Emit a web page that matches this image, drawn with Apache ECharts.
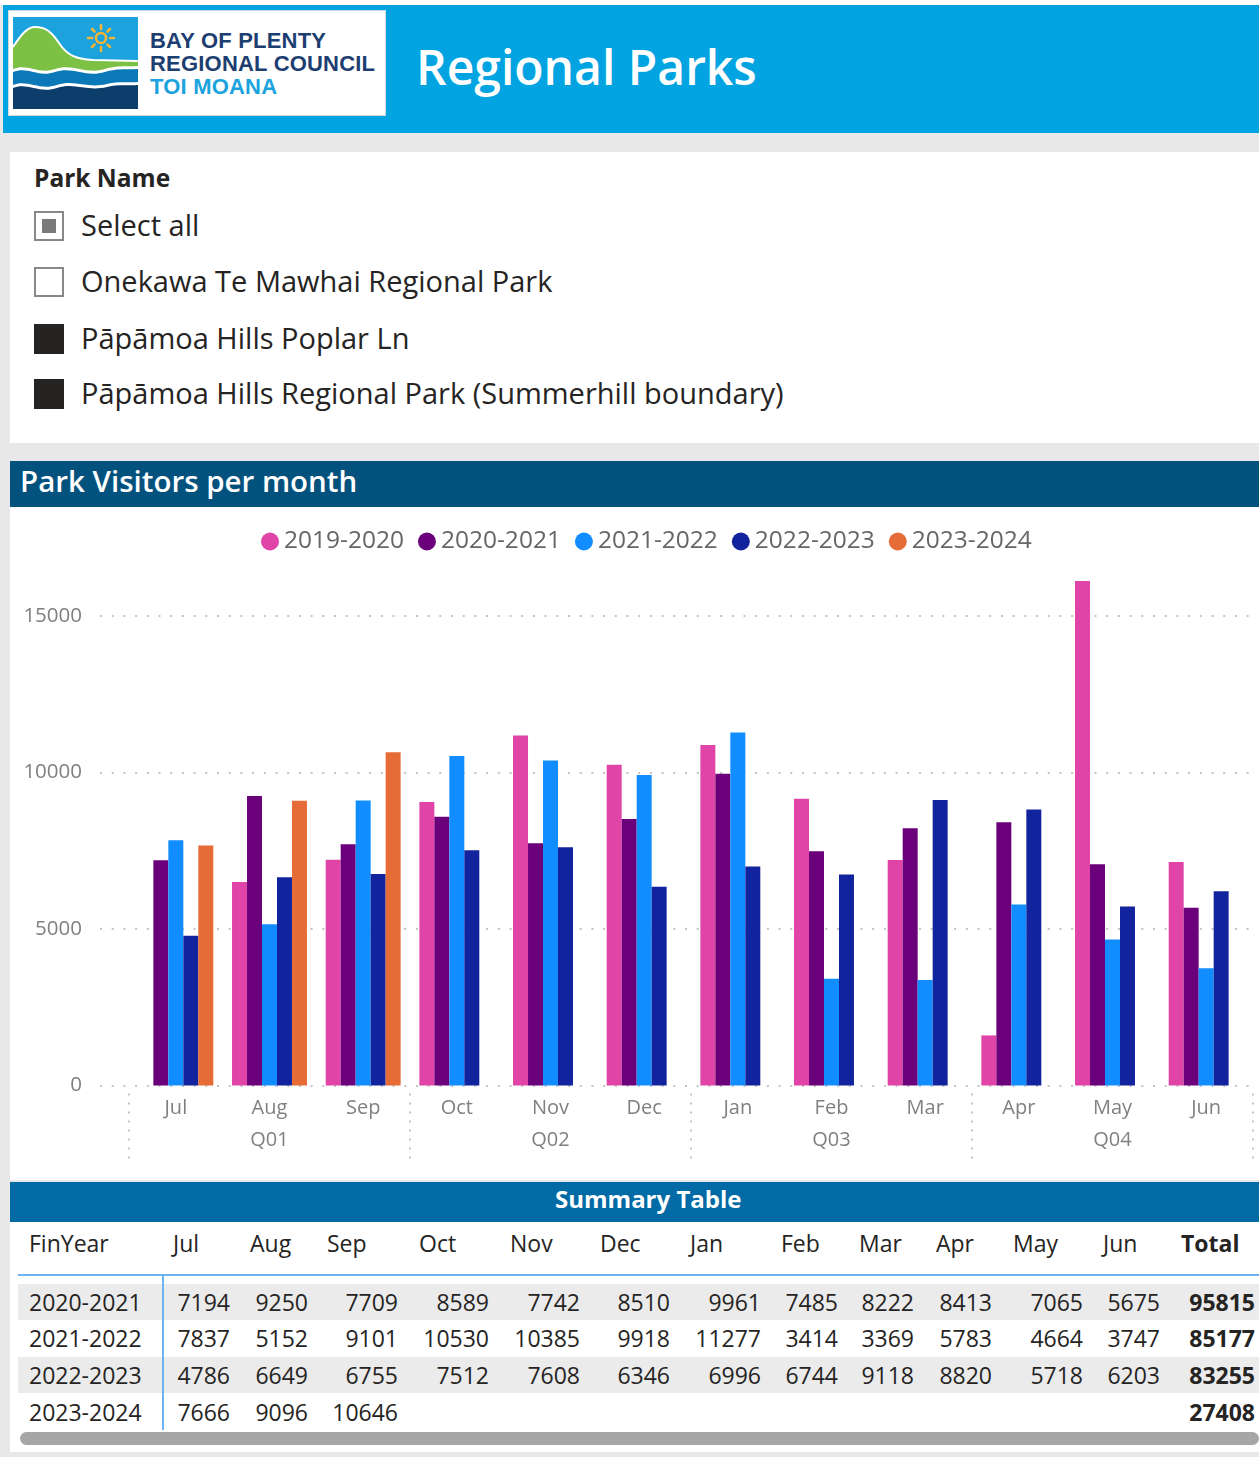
<!DOCTYPE html>
<html>
<head>
<meta charset="utf-8">
<script src="https://cdn.jsdelivr.net/npm/echarts@6/dist/echarts.min.js"></script>
<style>
html,body{margin:0;padding:0;}
body{width:1259px;height:1457px;position:relative;background:#e8e8e8;overflow:hidden;font-family:"Open Sans",sans-serif;color:#252423;}
.abs{position:absolute;}
.cb{position:absolute;left:34px;width:30px;height:30px;box-sizing:border-box;}
.item{position:absolute;left:81px;font-size:29px;line-height:34px;color:#252423;white-space:nowrap;}
</style>
</head>
<body>
<script>
const months = ['Jul','Aug','Sep','Oct','Nov','Dec','Jan','Feb','Mar','Apr','May','Jun'];
const quarters = ['Q01','Q02','Q03','Q04'];
const years = ['2019-2020','2020-2021','2021-2022','2022-2023','2023-2024'];
const v2019_2020 = [null, 6500, 7210, 9060, 11180, 10250, 10880, 9160, 7200, 1600, 16120, 7140];
const v2020_2021 = [7194, 9250, 7709, 8589, 7742, 8510, 9961, 7485, 8222, 8413, 7065, 5675];
const v2021_2022 = [7837, 5152, 9101, 10530, 10385, 9918, 11277, 3414, 3369, 5783, 4664, 3747];
const v2022_2023 = [4786, 6649, 6755, 7512, 7608, 6346, 6996, 6744, 9118, 8820, 5718, 6203];
const v2023_2024 = [7666, 9096, 10646, null, null, null, null, null, null, null, null, null];
const yTicks = [0, 5000, 10000, 15000];
const parkItems = ['Select all', 'Onekawa Te Mawhai Regional Park', 'Pāpāmoa Hills Poplar Ln', 'Pāpāmoa Hills Regional Park (Summerhill boundary)'];
const tableYears = ['2020-2021', '2021-2022', '2022-2023', '2023-2024'];
</script>

<div class="abs" style="left:0;top:0;width:1259px;height:5px;background:#fff"></div>
<!-- header -->
<div class="abs" style="left:3px;top:5px;width:1256px;height:128px;background:#02a3e1"></div>
<div class="abs" style="left:8px;top:10px;width:378px;height:106px;background:#fff;border:1px solid #cfd8dc;box-sizing:border-box"></div>
<svg class="abs" style="left:13px;top:17px" width="125" height="92" viewBox="0 0 125 92">
  <rect x="0" y="0" width="125" height="92" fill="#1ca3dd"/>
  <path d="M0,30 C8,18 14,10 22,10 C32,10 38,14 46,26 C54,38 62,42 80,43 L125,44 L125,92 L0,92 Z" fill="#7cc143"/>
  <path d="M0,30 C8,18 14,10 22,10 C32,10 38,14 46,26 C54,38 62,42 80,43 L125,44" fill="none" stroke="#fff" stroke-width="2"/>
  <path d="M0,52 C15,46 25,58 42,52 C60,46 72,58 92,52 C105,48 115,50 125,49 L125,92 L0,92 Z" fill="#fff"/>
  <path d="M0,55 C15,49 25,61 42,55 C60,49 72,61 92,55 C105,51 115,53 125,52 L125,92 L0,92 Z" fill="#0b78b8"/>
  <path d="M0,68 C14,62 26,74 44,68 C62,62 74,72 94,67 C106,64 116,66 125,65 L125,92 L0,92 Z" fill="#fff"/>
  <path d="M0,71 C14,65 26,77 44,71 C62,65 74,75 94,70 C106,67 116,69 125,68 L125,92 L0,92 Z" fill="#0d3e6b"/>
  <circle cx="88" cy="21" r="5" fill="none" stroke="#f6b434" stroke-width="2.5"/>
  <g stroke="#f6b434" stroke-width="2.5" stroke-linecap="round">
    <line x1="88" y1="8" x2="88" y2="12"/><line x1="88" y1="30" x2="88" y2="34"/>
    <line x1="75" y1="21" x2="79" y2="21"/><line x1="97" y1="21" x2="101" y2="21"/>
    <line x1="79" y1="12" x2="81.5" y2="14.5"/><line x1="94.5" y1="27.5" x2="97" y2="30"/>
    <line x1="97" y1="12" x2="94.5" y2="14.5"/><line x1="81.5" y1="27.5" x2="79" y2="30"/>
  </g>
</svg>
<div class="abs" style="left:150px;top:29px;font-family:'Liberation Sans',Arial,sans-serif;font-weight:bold;font-size:22px;line-height:23px;color:#1d3e70;letter-spacing:0.2px">BAY OF PLENTY<br>REGIONAL COUNCIL<br><span style="color:#1ba3de">TOI MOANA</span></div>
<div class="abs" style="left:416px;top:39px;font-size:48px;line-height:56px;font-weight:600;color:#fff;white-space:nowrap">Regional Parks</div>

<!-- slicer -->
<div class="abs" style="left:10px;top:152px;width:1249px;height:291px;background:#fff"></div>
<div class="abs" style="left:34px;top:162px;font-size:24.5px;line-height:32px;font-weight:bold;color:#252423">Park Name</div>
<div id="slicer"></div>

<!-- chart panel -->
<div class="abs" style="left:10px;top:461px;width:1249px;height:46px;background:#03527e"></div>
<div class="abs" style="left:20px;top:462px;font-size:29.5px;line-height:38px;font-weight:600;color:#fff;white-space:nowrap">Park Visitors per month</div>
<div id="chart" class="abs" style="left:10px;top:507px;width:1249px;height:673px;background:#fff"></div>

<!-- table panel -->
<div class="abs" style="left:10px;top:1182px;width:1249px;height:40px;background:#026aa5"></div>
<div class="abs" style="left:555px;top:1183px;font-size:24px;line-height:32px;font-weight:bold;color:#fff;white-space:nowrap">Summary Table</div>
<div class="abs" style="left:10px;top:1222px;width:1249px;height:230px;background:#fff"></div>
<div id="table"></div>

<script>
(function(){
  const s = document.getElementById('slicer');
  const centers = [226, 282, 339, 394];
  parkItems.forEach((name, i) => {
    const cy = centers[i];
    const box = document.createElement('div');
    box.className = 'cb';
    box.style.top = (cy - 15) + 'px';
    if (i === 0) {
      box.style.border = '2px solid #8a8886';
      box.style.background = '#fff';
      const inner = document.createElement('div');
      inner.style.cssText = 'position:absolute;left:6px;top:6px;width:14px;height:14px;background:#7a7a7a';
      box.appendChild(inner);
    } else if (i === 1) {
      box.style.border = '2px solid #8a8886';
      box.style.background = '#fff';
    } else {
      box.style.background = '#252423';
    }
    s.appendChild(box);
    const t = document.createElement('div');
    t.className = 'item';
    t.style.top = (cy - 18) + 'px';
    t.textContent = name;
    s.appendChild(t);
  });
})();

(function(){
  const tb = document.getElementById('table');
  const colPos = [[173,230],[250,308],[327,398],[419,489],[510,580],[600,670],[690,761],[781,838],[859,914],[936,992],[1013,1083],[1103,1160],[1181,1255]];
  const rowData = [v2020_2021, v2021_2022, v2022_2023, v2023_2024];
  const rowTop = [1284, 1320, 1357, 1394];
  const rowH = 36;
  function add(html, css){ const d=document.createElement('div'); d.style.cssText=css; d.innerHTML=html; tb.appendChild(d); return d; }
  [0,2].forEach(r => add('', `position:absolute;left:18px;top:${rowTop[r]}px;width:1241px;height:${rowH}px;background:#ebebeb`));
  add('FinYear', 'position:absolute;left:29px;top:1228px;font-size:23px;line-height:30px;color:#252423');
  months.concat(['Total']).forEach((m, j) => {
    add(m, `position:absolute;left:${colPos[j][0]}px;top:1228px;font-size:23px;line-height:30px;color:#252423;${m==='Total'?'font-weight:bold':''}`);
  });
  add('', 'position:absolute;left:18px;top:1274px;width:1241px;height:2px;background:#6db2f2');
  add('', 'position:absolute;left:162px;top:1276px;width:2px;height:154px;background:#6db2f2');
  rowData.forEach((arr, r) => {
    const cy = rowTop[r] + rowH/2;
    add(tableYears[r], `position:absolute;left:29px;top:${cy-15}px;font-size:23px;line-height:30px;color:#252423`);
    let total = 0;
    arr.forEach((v, j) => {
      if (v == null) return;
      total += v;
      add(String(v), `position:absolute;right:${1259-colPos[j][1]}px;top:${cy-15}px;font-size:23px;line-height:30px;color:#252423`);
    });
    add(String(total), `position:absolute;right:${1259-colPos[12][1]}px;top:${cy-15}px;font-size:23px;line-height:30px;color:#252423;font-weight:bold`);
  });
  add('', 'position:absolute;left:20px;top:1432px;width:1239px;height:13px;background:#a6a6a6;border-radius:7px');
})();

(function(){
  const chart = echarts.init(document.getElementById('chart'), null, {renderer: 'canvas'});
  const font = '"Open Sans", sans-serif';
  const colors = ['#e044a7', '#6b007b', '#118dff', '#12239e', '#e66c37'];
  const seriesValues = [v2019_2020, v2020_2021, v2021_2022, v2022_2023, v2023_2024];
  const yMax = 16500;
  const option = {
    animation: false,
    color: colors,
    legend: {
      data: years, left: 246, top: 17, icon: 'circle', itemWidth: 18, itemHeight: 18, itemGap: 14,
      textStyle: {fontSize: 24.5, color: '#666', fontFamily: font}
    },
    grid: [
      {left: 119, width: 1124, top: 62, height: 516.5},
      {left: 90, width: 1153, top: 62, height: 516.5}
    ],
    xAxis: [
      {type: 'category', gridIndex: 0, data: months,
        axisLine: {show: false}, axisTick: {show: false},
        axisLabel: {interval: 0, margin: 13, fontSize: 20, color: '#808080', fontFamily: font}},
      {type: 'category', gridIndex: 0, data: quarters, position: 'bottom', offset: 8,
        axisLine: {show: false},
        axisTick: {show: true, length: 67, lineStyle: {color: '#c4c4c4', width: 2, type: [2, 7]}},
        axisLabel: {interval: 0, margin: 37, fontSize: 20, color: '#808080', fontFamily: font}},
      {type: 'value', gridIndex: 1, show: false, min: 0, max: 1}
    ],
    yAxis: [
      {type: 'value', gridIndex: 0, min: 0, max: yMax, interval: 5000, show: false, splitLine: {show: false}},
      {type: 'value', gridIndex: 1, min: 0, max: yMax, interval: 5000,
        axisLine: {show: false}, axisTick: {show: false},
        axisLabel: {margin: 18, fontSize: 20.5, color: '#808080', fontFamily: font, showMaxLabel: false,
          formatter: v => yTicks.indexOf(v) >= 0 ? String(v) : ''},
        splitLine: {show: true, showMaxLine: false,
          lineStyle: {color: ['#c4c4c4', '#c4c4c4', '#c4c4c4', '#c4c4c4', 'rgba(0,0,0,0)'], width: 2, type: [2, 9.7]}}}
    ],
    series: years.map((name, i) => ({
      name: name, type: 'bar', xAxisIndex: 0, yAxisIndex: 0,
      data: seriesValues[i], barGap: '0%', barCategoryGap: '20%'
    }))
  };
  chart.setOption(option);
})();
</script>
</body>
</html>
